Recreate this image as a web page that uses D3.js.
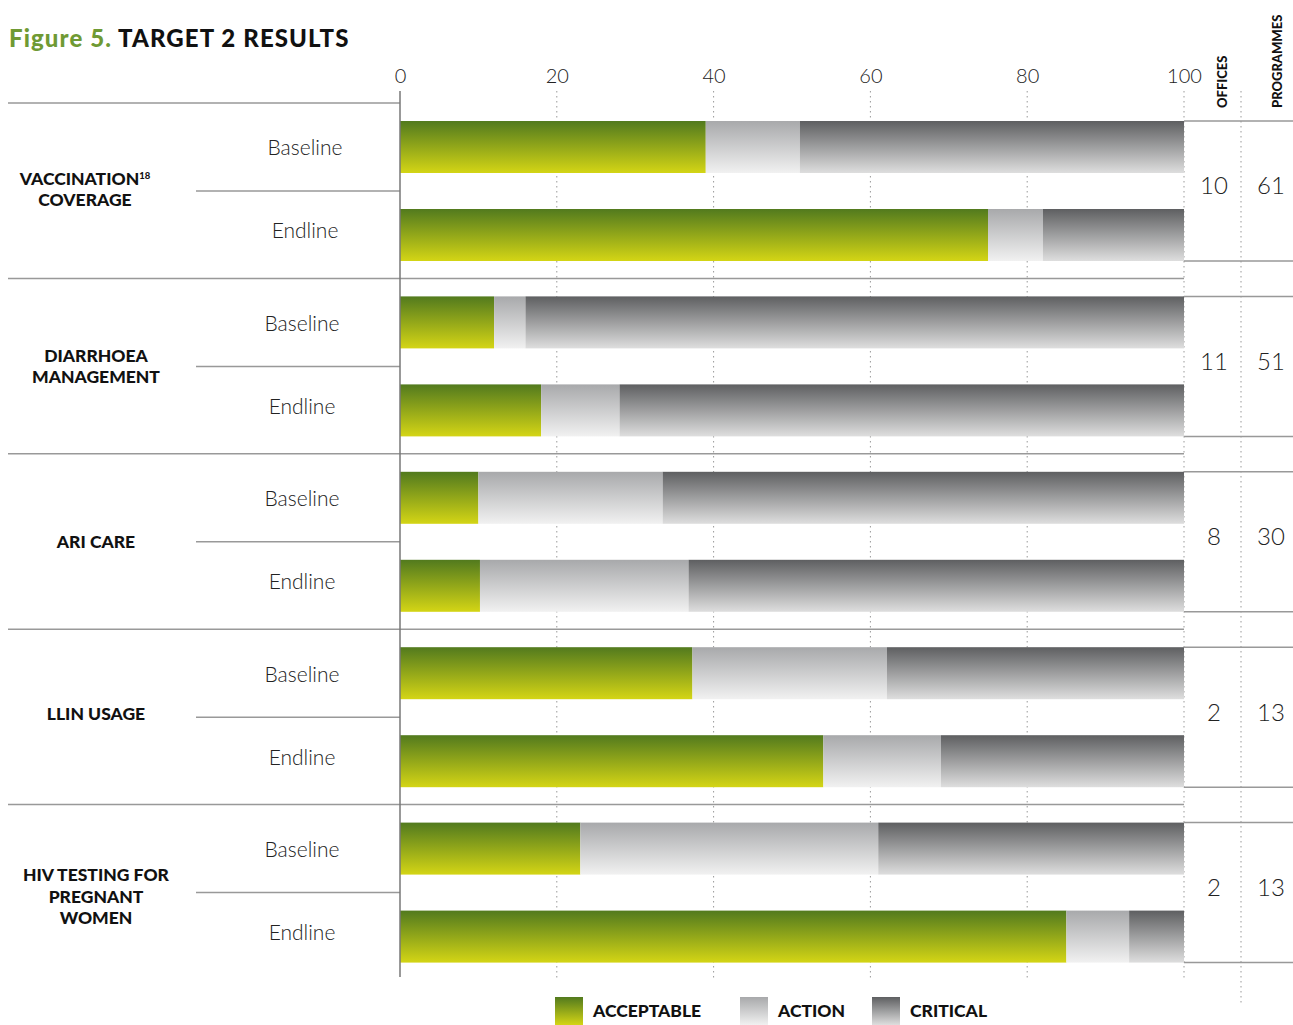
<!DOCTYPE html>
<html><head><meta charset="utf-8">
<script src="https://cdn.jsdelivr.net/npm/d3@7/dist/d3.min.js"></script>
<style>
html,body{margin:0;padding:0;background:#fff;}
svg{display:block;font-family:Lato,"Open Sans",sans-serif;}
</style></head>
<body>
<svg id="chart" width="1293" height="1025"></svg>
<script>
const categories = [["VACCINATION","COVERAGE"],["DIARRHOEA","MANAGEMENT"],["ARI CARE"],["LLIN USAGE"],["HIV TESTING FOR","PREGNANT","WOMEN"]];
const categoryKeys = ["vacc","diarr","ari","llin","hiv"];
const rows = ["Baseline","Endline"];
const acceptable = [[39,75],[12,18],[10,10.2],[37.3,54],[23,85]];
const action = [[12,7],[4,10],[23.5,26.6],[24.8,15],[38,8]];
const critical = [[49,18],[84,72],[66.5,63.2],[37.9,31],[39,7]];
const offices = [10,11,8,2,2];
const programmes = [61,51,30,13,13];
const ticks = [0,20,40,60,80,100];
const legendLabels = ["ACCEPTABLE","ACTION","CRITICAL"];

const svg = d3.select("#chart");
const defs = svg.append("defs");
function grad(id, top, bottom){
  const g = defs.append("linearGradient").attr("id",id).attr("x1",0).attr("y1",0).attr("x2",0).attr("y2",1);
  g.append("stop").attr("offset","0%").attr("stop-color",top);
  g.append("stop").attr("offset","100%").attr("stop-color",bottom);
}
grad("gAcc","#527a1e","#d4d515");
grad("gAct","#a8a9ab","#f1f1f1");
grad("gCri","#5e5f61","#dedede");
const fills = ["url(#gAcc)","url(#gAct)","url(#gCri)"];

const x = d3.scaleLinear().domain([0,100]).range([400,1184]);
const yG = d3.scaleBand().domain(categoryKeys).range([103,980]).paddingInner(0).paddingOuter(0);
const yR = d3.scaleBand().domain(rows).range([18,158]).paddingInner(36/88);
const barH = yR.bandwidth();
const labelShift = [-2,0,0,-3,4];

// title
const title = svg.append("text").attr("x",9).attr("y",47).attr("font-size",24).attr("font-weight",900)
  .attr("letter-spacing",1.1).attr("font-family","Lato,sans-serif");
title.append("tspan").attr("fill","#6f9a34").text("Figure 5. ");
title.append("tspan").attr("fill","#111").text("TARGET 2 RESULTS");

// gridlines dotted
svg.append("g").selectAll("line").data(ticks.slice(1)).join("line")
  .attr("x1",d=>x(d)).attr("x2",d=>x(d)).attr("y1",91).attr("y2",978)
  .attr("stroke","#999").attr("stroke-width",1).attr("stroke-dasharray","1.5,3.5");
svg.append("line").attr("x1",1241).attr("x2",1241).attr("y1",91).attr("y2",1006)
  .attr("stroke","#999").attr("stroke-width",1).attr("stroke-dasharray","1.5,3.5");

// top axis labels
const axis = d3.axisTop(x).tickValues(ticks).tickSize(0).tickPadding(0);
const ax = svg.append("g").attr("transform","translate(0,83)").call(axis);
ax.select(".domain").remove();
ax.selectAll("text").attr("font-size",20).attr("fill","#222").attr("font-family","Lato,sans-serif").attr("font-weight",300);

// column headers
[["OFFICES",1227],["PROGRAMMES",1282]].forEach(([t,xx])=>{
  svg.append("text").attr("transform",`translate(${xx},108) rotate(-90)`).attr("font-size",13).attr("font-weight",900)
    .attr("fill","#111").attr("font-family","Lato,sans-serif").text(t);
});

categoryKeys.forEach((k,i)=>{
  const g0 = yG(k);
  const g = svg.append("g").attr("transform",`translate(0,${g0})`);
  if(i===0){
    g.append("line").attr("x1",8).attr("x2",400).attr("y1",0).attr("y2",0).attr("stroke","#999").attr("stroke-width",1.5);
  } else {
    g.append("line").attr("x1",8).attr("x2",1184).attr("y1",0).attr("y2",0).attr("stroke","#999").attr("stroke-width",1.5);
  }
  const mid = (yR("Baseline")+barH + yR("Endline"))/2;
  g.append("line").attr("x1",196).attr("x2",400).attr("y1",mid).attr("y2",mid).attr("stroke","#999").attr("stroke-width",1.5);
  rows.forEach((r,j)=>{
    const vals = [acceptable[i][j],action[i][j],critical[i][j]];
    let acc = 0;
    const segs = vals.map((v,s)=>{const o={x0:acc,x1:acc+v,s}; acc+=v; return o;});
    g.selectAll(null).data(segs).join("rect")
      .attr("x",d=>x(d.x0)).attr("width",d=>x(Math.min(d.x1,100))-x(d.x0))
      .attr("y",yR(r)).attr("height",barH).attr("fill",d=>fills[d.s]);
    g.append("text").attr("x",i===0?305:302).attr("y",yR(r)+barH/2+(j===0?1:-4)).attr("dy","0.35em")
      .attr("text-anchor","middle").attr("font-size",21).attr("fill","#222").attr("font-weight",300)
      .attr("font-family","Lato,sans-serif").text(r);
  });
  const lines = categories[i];
  const lh = 21.5;
  const cy = mid + labelShift[i];
  lines.forEach((t,li)=>{
    const tx = g.append("text").attr("text-anchor","middle").attr("font-size",17.5).attr("font-weight",900)
      .attr("fill","#111").attr("font-family","Lato,sans-serif")
      .attr("x",i===0?85:96).attr("y",cy+(li-(lines.length-1)/2)*lh).attr("dy","0.36em").text(t);
    if(i===0 && li===0){
      tx.append("tspan").attr("font-size",9.5).attr("dy","-6").text("18");
    }
  });
  const top = yR("Baseline"), bot = yR("Endline")+barH;
  [top,bot].forEach(yy=>g.append("line").attr("x1",1184).attr("x2",1293).attr("y1",yy).attr("y2",yy).attr("stroke","#999").attr("stroke-width",1.5));
  const vc = (top+bot)/2 - 5;
  g.append("text").attr("x",1214).attr("y",vc).attr("dy","0.35em").attr("text-anchor","middle").attr("font-size",24)
    .attr("font-weight",300).attr("fill","#222").attr("font-family","Lato,sans-serif").text(offices[i]);
  g.append("text").attr("x",1271).attr("y",vc).attr("dy","0.35em").attr("text-anchor","middle").attr("font-size",24)
    .attr("font-weight",300).attr("fill","#222").attr("font-family","Lato,sans-serif").text(programmes[i]);
});

svg.append("line").attr("x1",400).attr("x2",400).attr("y1",91).attr("y2",977).attr("stroke","#777").attr("stroke-width",1.5);

const legX = [555,740,872];
legendLabels.forEach((t,i)=>{
  svg.append("rect").attr("x",legX[i]).attr("y",997).attr("width",28).attr("height",28).attr("fill",fills[i]);
  svg.append("text").attr("x",legX[i]+38).attr("y",1011).attr("dy","0.35em").attr("font-size",17.5).attr("font-weight",900)
    .attr("fill","#111").attr("font-family","Lato,sans-serif").text(t);
});
</script>
</body></html>
